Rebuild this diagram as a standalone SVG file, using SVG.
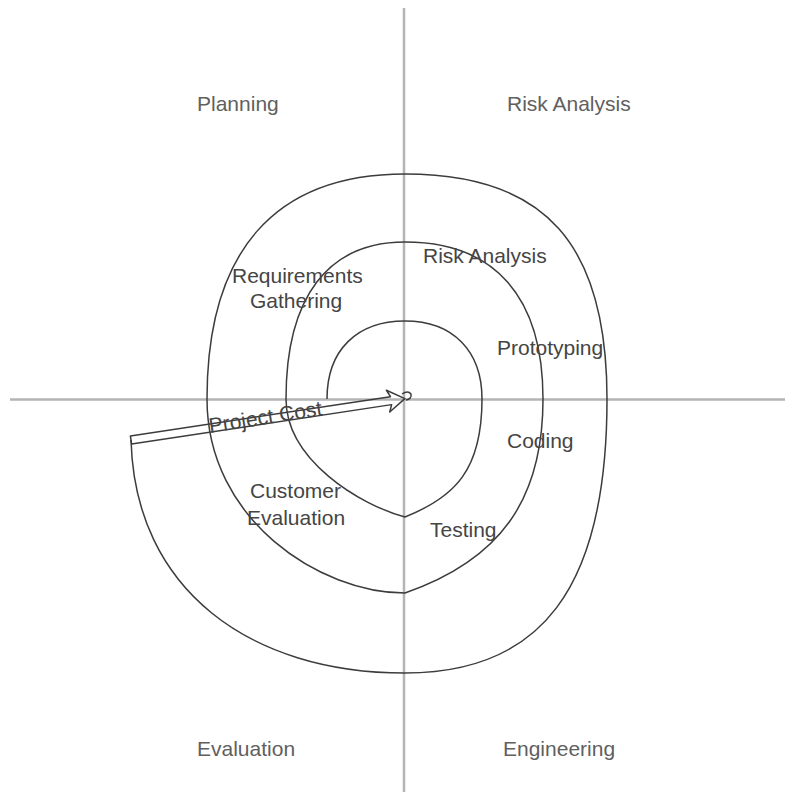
<svg xmlns="http://www.w3.org/2000/svg" width="785" height="792" viewBox="0 0 785 792">
<style>
.axis{stroke:#b4b4b4;stroke-width:2.5;fill:none}
.sp{stroke:#3c3c3c;stroke-width:1.5;fill:none;stroke-linejoin:round}
.q{font-family:"Liberation Sans",Arial,sans-serif;font-size:21px;fill:#606060}
.t{font-family:"Liberation Sans",Arial,sans-serif;font-size:21px;fill:#454545}
</style>
<rect width="785" height="792" fill="#ffffff"/>
<g id="axes">
<line class="axis" x1="404" y1="8" x2="404" y2="792"/>
<line class="axis" x1="10" y1="399.5" x2="785" y2="399.5"/>
</g>
<g id="connectors">
<path id="spiral" class="sp" d="M327,399 C327,350 357,321 405,321 C453,321 482,351 482,399 C482,470 455,497 405,517 C360,505 286,460 286,399 C286,297 328,242 405,242 C495,242 543,297 543,399 C543,500 500,560 405,593 C320,593 207,520 207,399 C207,252 274,174 405,174 C546,174 607,245 607,399 C607,590 540,673 405,673 C250,673 135,590 131,440"/>
<g id="arrow" transform="translate(131,440) rotate(-8.6)">
<path class="sp" d="M0,-4 L263,-4 L260,-11 L277,0 L260,11 L263,4 L0,4 Z"/>
</g>
<path class="sp" d="M402,394 q6,-4 9,0 q1,5 -5,6" stroke-width="1.2"/>
</g>
<g id="quadrant-planning"><text class="q" x="197" y="111">Planning</text></g>
<g id="quadrant-risk"><text class="q" x="507" y="111">Risk Analysis</text></g>
<g id="quadrant-evaluation"><text class="q" x="197" y="756">Evaluation</text></g>
<g id="quadrant-engineering"><text class="q" x="503" y="756">Engineering</text></g>
<g id="label-requirements"><text class="t" x="232" y="283">Requirements</text><text class="t" x="250" y="308">Gathering</text></g>
<g id="label-risk"><text class="t" x="423" y="263">Risk Analysis</text></g>
<g id="label-prototyping"><text class="t" x="497" y="355">Prototyping</text></g>
<g id="label-coding"><text class="t" x="507" y="448">Coding</text></g>
<g id="label-testing"><text class="t" x="430" y="537">Testing</text></g>
<g id="label-customer"><text class="t" x="250" y="498">Customer</text><text class="t" x="247" y="525">Evaluation</text></g>
<g id="label-cost"><text class="t" x="210" y="433" transform="rotate(-9 210 433)">Project Cost</text></g>
</svg>
